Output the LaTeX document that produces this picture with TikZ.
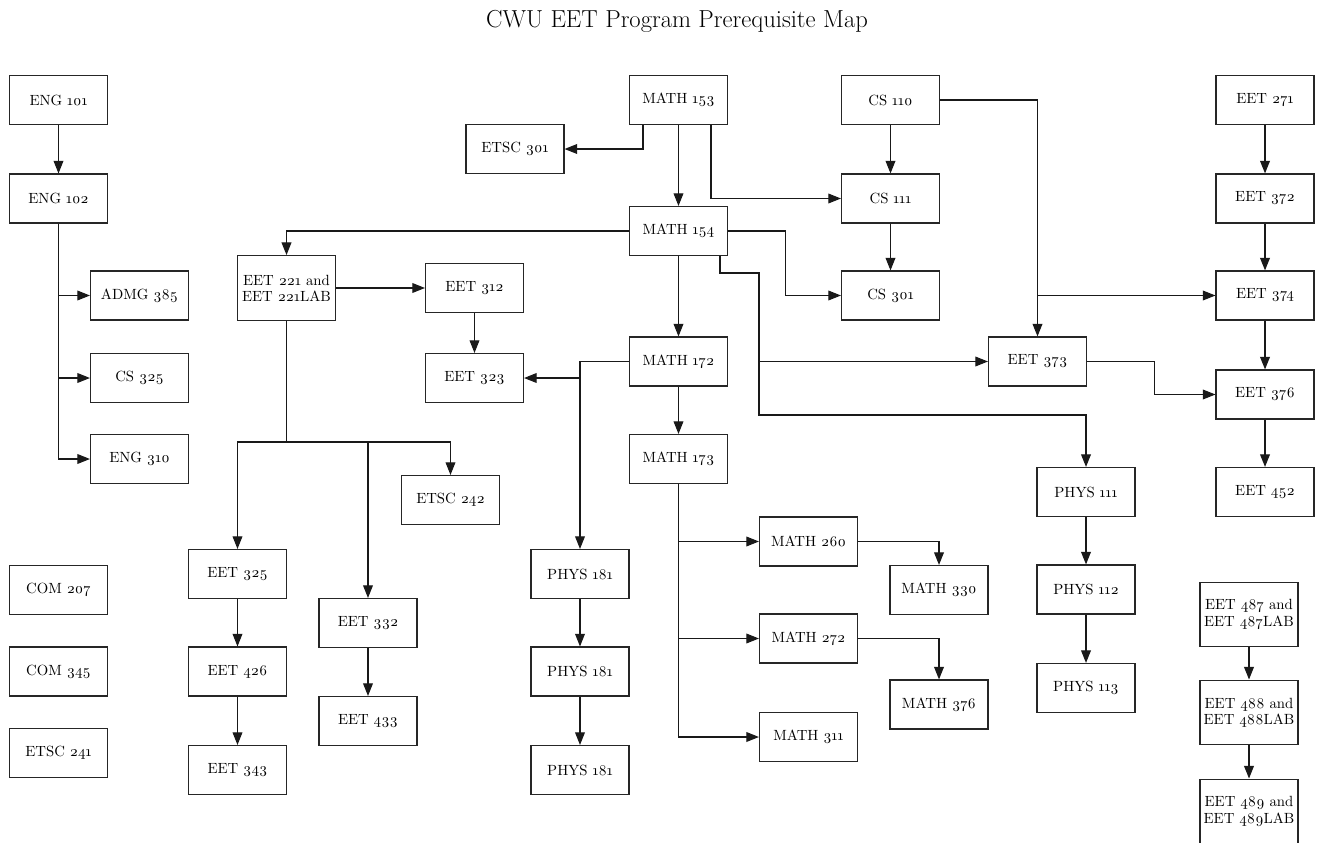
\documentclass[tikz,border=0pt]{standalone}
\usepackage{fontspec}
\setmainfont{Latin Modern Roman}[Numbers=OldStyle]
\usetikzlibrary{arrows.meta,calc}

\begin{document}
\begin{tikzpicture}[x=0.025cm, y=-0.025cm,
  course/.style={draw=black!85, line width=0.8pt, minimum width=2.45cm, minimum height=1.225cm,
    inner sep=1pt, align=center, font=\fontsize{10.5}{11.5}\selectfont},
  course2/.style={course, minimum height=1.62cm},
  arr/.style={-{Triangle[length=9pt,width=7pt]}, line width=0.8pt, black!90}]
  \useasboundingbox (0,0) rectangle (1320,842);
  \node[font=\fontsize{17.5}{20}\selectfont] (title) at (677,21) {CWU EET Program Prerequisite Map};

  % general education column
  \node[course] (eng101) at (58.5,100) {ENG 101};
  \node[course] (eng102) at (58.5,198.5) {ENG 102};
  \node[course] (admg385) at (139.5,295.5) {ADMG 385};
  \node[course] (cs325) at (139.5,378) {CS 325};
  \node[course] (eng310) at (139.5,459) {ENG 310};
  \node[course] (com207) at (58.5,590) {COM 207};
  \node[course] (com345) at (58.5,671.5) {COM 345};
  \node[course] (etsc241) at (58.5,753) {ETSC 241};

  % circuits
  \node[course2] (eet221) at (286.5,288) {EET 221 and\\EET 221LAB};
  \node[course] (eet312) at (474.5,288) {EET 312};
  \node[course] (eet323) at (474.5,378) {EET 323};
  \node[course] (etsc242) at (450.5,500) {ETSC 242};
  \node[course] (eet325) at (237.5,574) {EET 325};
  \node[course] (eet426) at (237.5,671.5) {EET 426};
  \node[course] (eet343) at (237.5,770) {EET 343};
  \node[course] (eet332) at (368,623) {EET 332};
  \node[course] (eet433) at (368,721) {EET 433};

  % math and physics
  \node[course] (etsc301) at (515,149) {ETSC 301};
  \node[course] (math153) at (678.5,100) {MATH 153};
  \node[course] (math154) at (678.5,231) {MATH 154};
  \node[course] (math172) at (678.5,361.5) {MATH 172};
  \node[course] (math173) at (678.5,459) {MATH 173};
  \node[course] (phys181a) at (580,574) {PHYS 181};
  \node[course] (phys181b) at (580,671.5) {PHYS 181};
  \node[course] (phys181c) at (580,770) {PHYS 181};
  \node[course] (math260) at (808.5,541.5) {MATH 260};
  \node[course] (math330) at (939,590) {MATH 330};
  \node[course] (math272) at (808.5,638.5) {MATH 272};
  \node[course] (math376) at (939,704.5) {MATH 376};
  \node[course] (math311) at (808.5,737) {MATH 311};
  \node[course] (phys111) at (1086,492) {PHYS 111};
  \node[course] (phys112) at (1086,589.5) {PHYS 112};
  \node[course] (phys113) at (1086,688) {PHYS 113};

  % computing and upper division
  \node[course] (cs110) at (890.5,100) {CS 110};
  \node[course] (cs111) at (890.5,198.5) {CS 111};
  \node[course] (cs301) at (890.5,295.5) {CS 301};
  \node[course] (eet373) at (1037.5,361.5) {EET 373};
  \node[course] (eet271) at (1265,100) {EET 271};
  \node[course] (eet372) at (1265,198.5) {EET 372};
  \node[course] (eet374) at (1265,295.5) {EET 374};
  \node[course] (eet376) at (1265,394.5) {EET 376};
  \node[course] (eet452) at (1265,492) {EET 452};

  % senior project sequence
  \node[course2] (eet487) at (1249,614.5) {EET 487 and\\EET 487LAB};
  \node[course2] (eet488) at (1249,712.5) {EET 488 and\\EET 488LAB};
  \node[course2] (eet489) at (1249,811.5) {EET 489 and\\EET 489LAB};

  % straight prerequisites
  \foreach \a/\b in {eng101/eng102, math153/math154, math154/math172, math172/math173,
      cs110/cs111, cs111/cs301, eet271/eet372, eet372/eet374, eet374/eet376, eet376/eet452,
      eet221/eet312, eet312/eet323, eet325/eet426, eet426/eet343, eet332/eet433,
      phys181a/phys181b, phys181b/phys181c, phys111/phys112, phys112/phys113,
      eet487/eet488, eet488/eet489}
    \draw[arr] (\a) -- (\b);

  % ENG 102 fan-out
  \foreach \b in {admg385, cs325, eng310}
    \draw[arr] (eng102.south) |- (\b);

  % MATH 153 and MATH 154 branches
  \draw[arr] ($(math153.south)+(-35.5,0)$) |- (etsc301);
  \draw[arr] ($(math153.south)+(32.5,0)$) |- (cs111);
  \draw[arr] (math154) -| (eet221);
  \draw[arr] (math154.east) -- ++(57,0) |- (cs301);
  \coordinate (m154turn) at (759,273);
  \draw[arr] ($(math154.south)+(41.5,0)$) |- (m154turn) |- (eet373);
  \draw[arr] (m154turn) |- (1086,415) -- (phys111);

  % MATH 172 to EET 323 and physics
  \draw[arr] (math172) -| (phys181a);
  \draw[arr] (phys181a.north |- eet323) -- (eet323);

  % MATH 173 fan-out
  \foreach \b in {math260, math272, math311}
    \draw[arr] (math173.south) |- (\b);
  \draw[arr] (math260) -| (math330);
  \draw[arr] (math272) -| (math376);

  % CS 110 and EET 373
  \draw[arr] (cs110) -| (eet373);
  \draw[arr] (eet373.north |- eet374) -- (eet374);
  \draw[arr] (eet373.east) -- ++(67,0) |- (eet376);

  % EET 221 fan-out
  \coordinate (eetsplit) at (286.5,442);
  \draw[line width=0.8pt, black!90] (eet221) -- (eetsplit);
  \foreach \b in {eet325, eet332, etsc242}
    \draw[arr] (eetsplit) -| (\b);
\end{tikzpicture}
\end{document}
